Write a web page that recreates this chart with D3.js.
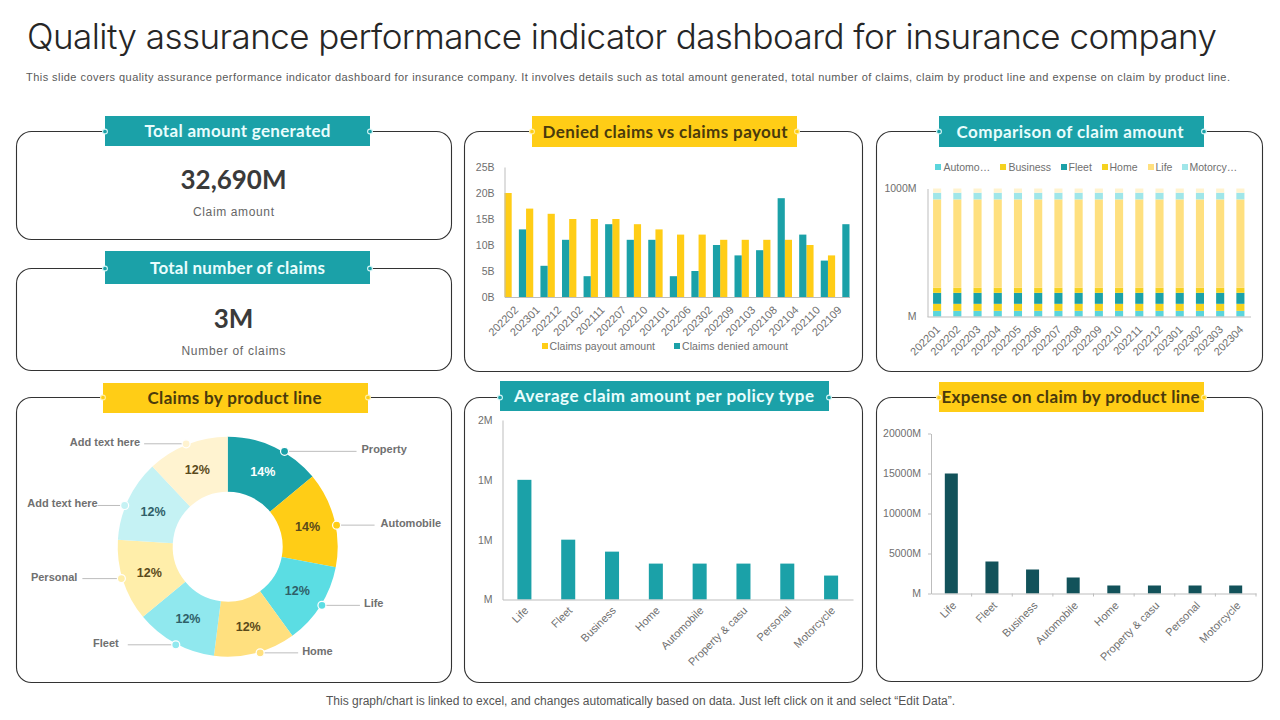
<!DOCTYPE html>
<html>
<head>
<meta charset="utf-8">
<script src="https://cdn.jsdelivr.net/npm/d3@7"></script>
<style>
  body { margin: 0; background: #fff; }
  svg { display: block; }
  text { font-family: "Liberation Sans", Arial, sans-serif; }
  .head { font-family: Lato, sans-serif; }
  .title { font-family: Inter, sans-serif; font-weight: 300; }
</style>
</head>
<body>
<div id="chart"></div>
<script>
// Data
const payoutMonths = ["202202","202301","202212","202102","202111","202207","202210","202101","202206","202302","202209","202103","202108","202104","202110","202109"];
const payoutAmount = [20,17,16,15,15,15,14,13,12,12,11,11,11,11,10,8];
const deniedAmount = [13,6,11,4,14,11,11,4,5,10,8,9,19,12,7,14];
const payoutTicks = [0,5,10,15,20,25];

const compareMonths = ["202201","202202","202203","202204","202205","202206","202207","202208","202209","202210","202211","202212","202301","202302","202303","202304"];
const compareSeries = ["Automobile","Business","Fleet","Home","Life","Motorcycle","Property"];
const compareAutomobile = [44,44,44,44,44,44,44,44,44,44,44,44,44,44,44,44];
const compareBusiness = [55,55,55,55,55,55,55,55,55,55,55,55,55,55,55,55];
const compareFleet = [86,86,86,86,86,86,86,86,86,86,86,86,86,86,86,86];
const compareHome = [39,39,39,39,39,39,39,39,39,39,39,39,39,39,39,39];
const compareLife = [691,691,691,691,691,691,691,691,691,691,691,691,691,691,691,691];
const compareMotorcycle = [52,52,52,52,52,52,52,52,52,52,52,52,52,52,52,52];
const compareProperty = [33,33,33,33,33,33,33,33,33,33,33,33,33,33,33,33];

const donutLabels = ["Property","Automobile","Life","Home","Fleet","Personal","Add text here","Add text here"];
const donutValues = [14,14,12,12,12,12,12,12];

const policyTypes = ["Life","Fleet","Business","Home","Automobile","Property & casu","Personal","Motorcycle"];
const policyAverage = [1,0.5,0.4,0.3,0.3,0.3,0.3,0.2];
const policyTicks = [0,0.5,1,1.5];

const expenseTypes = ["Life","Fleet","Business","Automobile","Home","Property & casu","Personal","Motorcycle"];
const expenseAmount = [15000,4000,3000,2000,1000,1000,1000,1000];
const expenseTicks = [0,5000,10000,15000,20000];

const teal = "#1ba1a8", yellow = "#ffcd16", darkTeal = "#12525a", grey = "#6f6f6f";

const svg = d3.select("#chart").append("svg").attr("width", 1280).attr("height", 720);

// Title and notes
svg.append("text").attr("class", "title").attr("x", 27).attr("y", 49)
    .attr("font-size", 35).attr("fill", "#262626")
    .attr("textLength", 1190)
    .text("Quality assurance performance indicator dashboard for insurance company");

svg.append("text").attr("x", 26).attr("y", 81).attr("font-size", 11).attr("fill", "#595959")
    .attr("textLength", 1204)
    .text("This slide covers quality assurance performance indicator dashboard for insurance company. It involves details such as total amount generated, total number of claims, claim by product line and expense on claim by product line.");

svg.append("text").attr("x", 326).attr("y", 705).attr("font-size", 12).attr("fill", "#555")
    .attr("textLength", 629)
    .text("This graph/chart is linked to excel, and changes automatically based on data. Just left click on it and select “Edit Data”.");

// Rounded panel with the coloured heading tab sitting on its top edge
function panel(p) {
    svg.append("rect")
        .attr("x", p.x0).attr("y", p.y0)
        .attr("width", p.x1 - p.x0).attr("height", p.y1 - p.y0)
        .attr("rx", 15).attr("fill", "#fff")
        .attr("stroke", "#333").attr("stroke-width", 1.1);
    svg.append("rect")
        .attr("x", p.tx0).attr("y", p.ty0)
        .attr("width", p.tx1 - p.tx0).attr("height", p.ty1 - p.ty0)
        .attr("fill", p.color);
    [p.tx0, p.tx1].forEach(x => {
        svg.append("circle").attr("cx", x).attr("cy", p.y0).attr("r", 2.4)
            .attr("fill", p.color).attr("stroke", p.color === teal ? "#d5f6f7" : "#fff0a8").attr("stroke-width", 1.1);
    });
    svg.append("text").attr("class", "head")
        .attr("x", p.tc).attr("y", (p.ty0 + p.ty1) / 2 + 6)
        .attr("text-anchor", "middle")
        .attr("font-size", 17).attr("font-weight", 700)
        .attr("fill", p.color === teal ? "#e9fdfd" : "#4a3a0c")
        .attr("textLength", p.tw)
        .text(p.title);
}

panel({ title: "Total amount generated", x0: 16.5, x1: 451.5, y0: 131.5, y1: 239.5, tx0: 105, tx1: 370, ty0: 116, ty1: 146, tc: 237.5, tw: 186, color: teal });
panel({ title: "Total number of claims", x0: 16.5, x1: 451.5, y0: 268.5, y1: 370.5, tx0: 105, tx1: 370, ty0: 251, ty1: 284, tc: 237.5, tw: 175, color: teal });
panel({ title: "Denied claims vs claims payout", x0: 464.5, x1: 862.5, y0: 131.5, y1: 371.5, tx0: 532, tx1: 797, ty0: 116, ty1: 147, tc: 665, tw: 245, color: yellow });
panel({ title: "Comparison of claim amount", x0: 876.5, x1: 1262.5, y0: 131.5, y1: 371.5, tx0: 939, tx1: 1204, ty0: 116, ty1: 147, tc: 1070, tw: 227, color: teal });
panel({ title: "Claims by product line", x0: 16.5, x1: 451.5, y0: 397.5, y1: 682.5, tx0: 103, tx1: 368, ty0: 383, ty1: 413, tc: 234.5, tw: 174, color: yellow });
panel({ title: "Average claim amount per policy type", x0: 464.5, x1: 862.5, y0: 397.5, y1: 682.5, tx0: 500, tx1: 829, ty0: 381, ty1: 411, tc: 664, tw: 300, color: teal });
panel({ title: "Expense on claim by product line", x0: 876.5, x1: 1262.5, y0: 397.5, y1: 681.5, tx0: 939, tx1: 1204, ty0: 382, ty1: 412, tc: 1070.5, tw: 258, color: yellow });

// KPI cards
function kpi(cx, y, value, label, labelY, labelWidth) {
    svg.append("text").attr("class", "head").attr("x", cx).attr("y", y)
        .attr("text-anchor", "middle").attr("font-size", 26).attr("font-weight", 700)
        .attr("fill", "#3a3a3a").text(value);
    svg.append("text").attr("x", cx).attr("y", labelY)
        .attr("text-anchor", "middle").attr("font-size", 12).attr("fill", "#666")
        .attr("textLength", labelWidth).text(label);
}
kpi(233.5, 189, "32,690M", "Claim amount", 216, 81);
kpi(233.5, 328, "3M", "Number of claims", 355, 104);

// Shared axis drawing, x labels slanted the way the spreadsheet does it
function axes(x, y, y0, left, tickValues, tickFormat, opts) {
    const xg = svg.append("g").attr("transform", `translate(0,${y0})`)
        .call(d3.axisBottom(x).tickSize(opts.xTick || 0).tickSizeOuter(0));
    xg.select(".domain").attr("stroke", "#bdbdbd");
    xg.selectAll("line").attr("stroke", "#bdbdbd");
    xg.selectAll("text")
        .attr("x", 0).attr("y", 0).attr("dy", "0.35em")
        .attr("text-anchor", "end")
        .attr("transform", `translate(${opts.lx},${opts.ly}) rotate(-45)`)
        .attr("font-family", "Liberation Sans").attr("font-size", opts.xfs).attr("fill", grey);

    const yg = svg.append("g").attr("transform", `translate(${left},0)`)
        .call(d3.axisLeft(y).tickValues(tickValues).tickFormat(tickFormat).tickSize(opts.yTick || 0).tickSizeOuter(0).tickPadding(opts.yPad));
    yg.select(".domain").attr("stroke", "#bdbdbd");
    yg.selectAll("line").attr("stroke", "#bdbdbd");
    yg.selectAll("text").attr("font-family", "Liberation Sans").attr("font-size", 10.5).attr("fill", grey);
}

// Denied claims vs payout: each month is split in payout, empty slot, denied
const xPayout = d3.scaleBand().domain(payoutMonths).range([504.5, 849.5]);
const slotPayout = d3.scaleBand().domain(["payout", "gap", "denied"]).range([0, xPayout.bandwidth()]);
const yPayout = d3.scaleLinear().domain([0, 25]).range([297, 167]);

svg.append("g").selectAll("rect").data(payoutMonths).join("rect")
    .attr("x", d => xPayout(d) + slotPayout("payout"))
    .attr("y", (d, i) => yPayout(payoutAmount[i]))
    .attr("width", slotPayout.bandwidth())
    .attr("height", (d, i) => yPayout(0) - yPayout(payoutAmount[i]))
    .attr("fill", yellow);
svg.append("g").selectAll("rect").data(payoutMonths).join("rect")
    .attr("x", d => xPayout(d) + slotPayout("denied"))
    .attr("y", (d, i) => yPayout(deniedAmount[i]))
    .attr("width", slotPayout.bandwidth())
    .attr("height", (d, i) => yPayout(0) - yPayout(deniedAmount[i]))
    .attr("fill", teal);
axes(xPayout, yPayout, 297, 504.5, payoutTicks, d => d + "B", { xfs: 11, lx: 1, ly: 11, yPad: 10 });

function legendItem(x, y, color, label, textX, width) {
    svg.append("rect").attr("x", x).attr("y", y - 3).attr("width", 6).attr("height", 6).attr("fill", color);
    const t = svg.append("text").attr("x", textX).attr("y", y + 3.5).attr("font-size", 10.5).attr("fill", grey);
    if (width) t.attr("textLength", width);
    t.text(label);
}
legendItem(542, 346, yellow, "Claims payout amount", 549.5, 105.5);
legendItem(674, 346, teal, "Claims denied amount", 682, 106);

// Comparison of claim amount, stacked
const compareColors = ["#5bd5dc", "#f5d21f", "#1ba1a8", "#f5d21f", "#ffe07f", "#a0e6e9", "#fff3cf"];
const compareRows = compareMonths.map((m, i) => ({
    month: m,
    Automobile: compareAutomobile[i],
    Business: compareBusiness[i],
    Fleet: compareFleet[i],
    Home: compareHome[i],
    Life: compareLife[i],
    Motorcycle: compareMotorcycle[i],
    Property: compareProperty[i]
}));
const xCompare = d3.scaleBand().domain(compareMonths).range([927, 1250.5]).paddingInner(0.6).paddingOuter(0.3);
const yCompare = d3.scaleLinear().domain([0, 1000]).range([316.5, 188.5]);
svg.append("g").selectAll("g").data(d3.stack().keys(compareSeries)(compareRows)).join("g")
    .attr("fill", (d, i) => compareColors[i])
    .selectAll("rect").data(d => d).join("rect")
    .attr("x", d => xCompare(d.data.month))
    .attr("y", d => yCompare(d[1]))
    .attr("width", xCompare.bandwidth())
    .attr("height", d => yCompare(d[0]) - yCompare(d[1]));
axes(xCompare, yCompare, 316.5, 927.5, [0, 1000], d => d === 0 ? "M" : d + "M", { xfs: 11, lx: 1, ly: 11, yPad: 11 });

legendItem(935, 167, compareColors[0], "Automo…", 943.5);
legendItem(1000, 167, compareColors[1], "Business", 1008.5);
legendItem(1061, 167, compareColors[2], "Fleet", 1068.5);
legendItem(1102, 167, compareColors[3], "Home", 1109.5);
legendItem(1148, 167, compareColors[4], "Life", 1155.5);
legendItem(1182, 167, compareColors[5], "Motorcy…", 1189.5);

// Donut with leader lines
const donutColors = [teal, yellow, "#5bdde3", "#ffe07f", "#90e8ee", "#ffeeaa", "#c5f2f4", "#fff3d0"];
const donutText = ["#fff", "#5a4a1a", "#2f5f68", "#5a4a1a", "#2f5f68", "#5a4a1a", "#2f5f68", "#5a4a1a"];
const leaderAngle = [30.8, 78.8, 121.9, 163, 207.9, 253.3, 291.8, 338];
const leaderLength = [72, 38, 38, 38, -48, -39, -27, -42];
const leaderGap = [5, 6, 4, 4, 9, 5, 0, 4];

const donut = svg.append("g").attr("transform", "translate(227.7,546.7)");
const outerR = 110, innerR = 55, dotR = 111;
const arc = d3.arc().innerRadius(innerR).outerRadius(outerR);
const slices = d3.pie().sort(null)(donutValues);
donut.selectAll("path").data(slices).join("path")
    .attr("d", arc).attr("fill", (d, i) => donutColors[i]);
donut.selectAll("text.pct").data(slices).join("text").attr("class", "pct")
    .attr("transform", d => `translate(${arc.centroid(d)})`)
    .attr("text-anchor", "middle").attr("dy", "0.35em")
    .attr("font-size", 12.5).attr("font-weight", 700)
    .attr("fill", (d, i) => donutText[i])
    .text(d => d.data + "%");

donutLabels.forEach((label, i) => {
    const a = leaderAngle[i] * Math.PI / 180;
    const dotX = Math.sin(a) * dotR, dotY = -Math.cos(a) * dotR;
    const endX = dotX + leaderLength[i];
    donut.append("line").attr("x1", dotX).attr("x2", endX).attr("y1", dotY).attr("y2", dotY)
        .attr("stroke", "#bdbdbd");
    donut.append("circle").attr("cx", dotX).attr("cy", dotY).attr("r", 4)
        .attr("fill", donutColors[i]).attr("stroke", "#fff").attr("stroke-width", 1.2);
    const right = leaderLength[i] > 0;
    donut.append("text")
        .attr("x", endX + (right ? leaderGap[i] : -leaderGap[i]))
        .attr("y", dotY + 2)
        .attr("text-anchor", right ? "start" : "end")
        .attr("font-size", 11).attr("font-weight", 700).attr("fill", "#707070")
        .text(label);
});

// Average claim amount per policy type
const xPolicy = d3.scaleBand().domain(policyTypes).range([502.5, 853]).paddingInner(0.68).paddingOuter(0.34);
const yPolicy = d3.scaleLinear().domain([0, 1.5]).range([599.5, 420]);
svg.append("g").selectAll("rect").data(policyTypes).join("rect")
    .attr("x", d => xPolicy(d))
    .attr("y", (d, i) => yPolicy(policyAverage[i]))
    .attr("width", xPolicy.bandwidth())
    .attr("height", (d, i) => yPolicy(0) - yPolicy(policyAverage[i]))
    .attr("fill", teal);
axes(xPolicy, yPolicy, 599.5, 502.5, policyTicks, d => d === 0 ? "M" : Math.round(d) + "M", { xfs: 11, lx: 2, ly: 9, yPad: 10 });

// Expense on claim by product line
const xExpense = d3.scaleBand().domain(expenseTypes).range([931, 1256]).paddingInner(0.68).paddingOuter(0.34);
const yExpense = d3.scaleLinear().domain([0, 20000]).range([593.5, 433.5]);
svg.append("g").selectAll("rect").data(expenseTypes).join("rect")
    .attr("x", d => xExpense(d))
    .attr("y", (d, i) => yExpense(expenseAmount[i]))
    .attr("width", xExpense.bandwidth())
    .attr("height", (d, i) => yExpense(0) - yExpense(expenseAmount[i]))
    .attr("fill", darkTeal);
axes(xExpense, yExpense, 593.5, 931, expenseTicks, d => d === 0 ? "M" : d + "M", { xfs: 11, lx: 3, ly: 10, yPad: 7, yTick: 3 });
// the x ticks here sit between the bars
svg.append("g").selectAll("line").data(expenseTypes).join("line")
    .attr("x1", d => xExpense(d) + xExpense.bandwidth() + xExpense.step() * xExpense.paddingInner() / 2)
    .attr("x2", d => xExpense(d) + xExpense.bandwidth() + xExpense.step() * xExpense.paddingInner() / 2)
    .attr("y1", 593.5).attr("y2", 596.5)
    .attr("stroke", "#bdbdbd");
</script>
</body>
</html>
